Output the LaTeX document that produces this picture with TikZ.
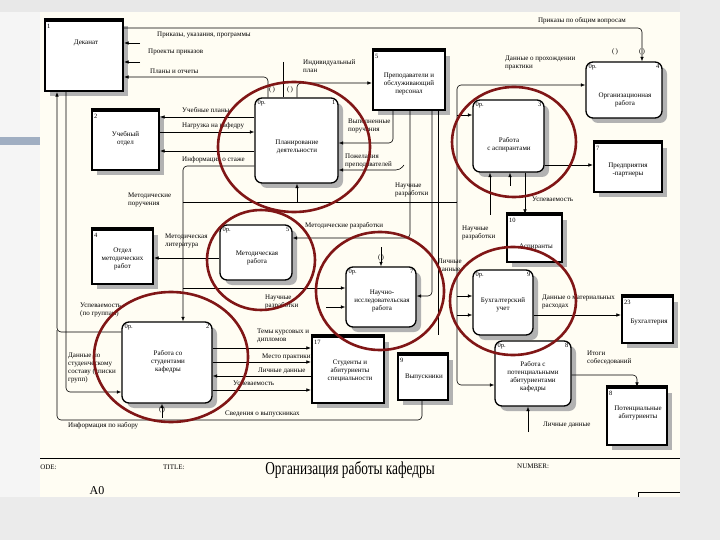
\documentclass[tikz,border=0pt]{standalone}
\usepackage{fontspec}
\setmainfont{Liberation Serif}
\usetikzlibrary{arrows.meta,shadows,calc}
\definecolor{cream}{RGB}{255,253,243}
\definecolor{circ}{RGB}{128,22,22}
\definecolor{slidebar}{RGB}{160,174,194}
\tikzset{
 ent/.style={draw, line width=2.2pt, fill=white, inner sep=0,
   general shadow={fill=gray!60, shadow xshift=5pt, shadow yshift=-5pt}},
 proc/.style={draw, line width=1.3pt, rounded corners=7pt, fill=white, inner sep=0,
   general shadow={fill=gray!60, shadow xshift=5pt, shadow yshift=-5pt}},
 txt/.style={font=\fontsize{7}{8}\selectfont, align=center, inner sep=0},
 lbl/.style={font=\fontsize{7}{8}\selectfont, align=left, inner sep=0, anchor=west},
 num/.style={font=\fontsize{6.5}{7}\selectfont, inner sep=0},
 tun/.style={font=\fontsize{7}{7}\selectfont, inner sep=0},
 arr/.style={-{Latex[length=4.5pt,width=3.5pt]}, line width=0.6pt, rounded corners=4pt},
 ln/.style={line width=0.6pt, rounded corners=4pt},
 ring/.style={draw=circ, line width=2.6pt},
}
\begin{document}
\begin{tikzpicture}[x=1pt,y=-1pt]
\useasboundingbox (0,0) rectangle (720,540);
% slide background
\fill[gray!8] (0,0) rectangle (720,540);
\fill[gray!18] (0,0) rectangle (720,12);
\fill[gray!16] (680,0) rectangle (720,540);
\fill[gray!16] (0,497) rectangle (720,540);
\fill[slidebar] (0,137) rectangle (46,145);
\fill[cream] (40,12) rectangle (680,497);

% ---------- external entities ----------
\node[ent, minimum width=78, minimum height=70] (e1) at (84,56) {};
\node[txt] (e1t) at (86,43) {Деканат};
\node[ent, minimum width=67, minimum height=59] (e2) at (125.5,140.5) {};
\node[txt] (e2t) at (125.5,139) {Учебный\\отдел};
\node[ent, minimum width=61, minimum height=54] (e4) at (122.5,257) {};
\node[txt] (e4t) at (122.5,259) {Отдел\\методических\\работ};
\node[ent, minimum width=72, minimum height=59] (e5) at (409,80.5) {};
\node[txt] (e5t) at (409,84) {Преподаватели и\\обслуживающий\\персонал};
\node[ent, minimum width=68, minimum height=49] (e7) at (628,167.5) {};
\node[txt] (e7t) at (628,170) {Предприятия\\-партнеры};
\node[ent, minimum width=55, minimum height=47] (e10) at (534.5,238.5) {};
\node[txt] (e10t) at (536,247) {Аспиранты};
\node[ent, minimum width=51, minimum height=46] (e23) at (647.5,320) {};
\node[txt] (e23t) at (649,322) {Бухгалтерия};
\node[ent, minimum width=60, minimum height=57] (e8) at (637,416.5) {};
\node[txt] (e8t) at (638,413) {Потенциальные\\абитуриенты};
\node[ent, minimum width=50, minimum height=45] (e9) at (423,377.5) {};
\node[txt] (e9t) at (424,377) {Выпускники};
\node[ent, minimum width=72, minimum height=66] (e17) at (348,370) {};
\node[txt] (e17t) at (350,371) {Студенты и\\абитуриенты\\специальности};
\foreach \n/\k in {e1/1,e2/2,e4/4,e5/5,e7/7,e10/10,e23/23,e8/8,e9/9,e17/17}{
  \draw[line width=3.6pt] (\n.north west) -- (\n.north east);
  \node[num, anchor=north west] (\n k) at ($(\n.north west)+(3,4)$) {\k};
}

% ---------- processes ----------
\node[proc, minimum width=83, minimum height=85] (p1) at (296.5,140.5) {};
\node[txt] (p1t) at (297,147) {Планирование\\деятельности};
\node[proc, minimum width=76, minimum height=56] (p6) at (624,90) {};
\node[txt] (p6t) at (625,100) {Организационная\\работа};
\node[proc, minimum width=71, minimum height=72] (p3) at (508.5,136) {};
\node[txt] (p3t) at (509,145) {Работа\\с аспирантами};
\node[proc, minimum width=72, minimum height=55] (p5) at (256,252.5) {};
\node[txt] (p5t) at (257,258) {Методическая\\работа};
\node[proc, minimum width=70, minimum height=60] (p7) at (381,297) {};
\node[txt] (p7t) at (382,301) {Научно-\\исследовательская\\работа};
\node[proc, minimum width=60, minimum height=65] (p9) at (503,302.5) {};
\node[txt] (p9t) at (503,305) {Бухгалтерский\\учет};
\node[proc, minimum width=90, minimum height=81] (p2) at (167,362.5) {};
\node[txt] (p2t) at (168,362) {Работа со\\студентами\\кафедры};
\node[proc, minimum width=76, minimum height=65] (p8) at (533,373.5) {};
\node[txt] (p8t) at (533,377) {Работа с\\потенциальными\\абитуриентами\\кафедры};
\foreach \n/\k in {p1/1,p6/4,p3/3,p5/5,p7/7,p9/9,p2/2,p8/8}{
  \node[num, anchor=north west] (\n a) at ($(\n.north west)+(3,3)$) {0р.};
  \node[num, anchor=north east] (\n b) at ($(\n.north east)+(-3,3)$) {\k};
}

% ---------- named free ends ----------
\coordinate (s1) at (140,43);
\coordinate (s2) at (140,62);
\coordinate (t1) at (283,62);
\coordinate (t2) at (404,165);
\coordinate (jl) at (183,202);
\coordinate (bus) at (457,202);
\coordinate (t3) at (490,215);
\coordinate (t4) at (510,186);
\coordinate (t5) at (381,247);
\coordinate (t6) at (326,307);
\coordinate (t7) at (528,432);
\coordinate (t8) at (438,335);
\coordinate (t9) at (162,418);

% ---------- connectors ----------
\draw[arr] (e1.east |- 0,28) -- (642,28) -- (p6.north -| 642,0);
\draw[arr] (s1) -- (e1.east |- s1);
\draw[arr] (s2) -- (e1.east |- s2);
\draw[arr] (p1.north -| 268,0) -- (268,77) -- (e1.east |- 0,77);
\draw[arr] (p1.north -| 297,0) -- (297,83) -- (e5.west |- 0,83);
\draw[ln] (t1) -- (p1.north -| t1);
\draw[arr] (e5.south -| 393,0) -- (393,143) -- (p1.east |- 0,143);
\draw[arr] (t2) -- (400,170) -- (p1.east |- 0,170);
\draw[arr] (p1.west |- 0,117) -- (e2.east |- 0,117);
\draw[arr] (e2.east |- 0,132) -- (p1.west |- 0,132);
\draw[arr] (p1.west |- 0,151) -- (e2.east |- 0,151);
\draw[arr] (p1.west |- 0,166) -- (183,166) -- (p2.north -| 183,0);
\draw[ln] (jl) -- (bus);
\draw[arr] (297,202) -- (p1.south -| 297,0);
\draw[arr] (bus) -- (457,85) -- (p6.west |- 0,85);
\draw[arr] (bus) -- (457,385) -- (p8.west |- 0,385);
\draw[arr] (457,115) -- (p3.west |- 0,115);
\draw[arr] (457,296) -- (p9.west |- 0,296);
\draw[arr] (457,315) -- (p9.west |- 0,315);
\draw[arr] (e5.south -| 410,0) -- (410,238) -- (p5.east |- 0,238);
\draw[arr] (e5.south -| 432,0) -- (432,296) -- (p7.east |- 0,296);
\draw[ln] (e5.south -| 438,0) -- (t8);
\draw[arr] (p3.south -| 525,0) -- (e10.north -| 525,0);
\draw[arr] (p3.east |- 0,165) -- (e7.west |- 0,165);
\draw[arr] (t3) -- (p3.south -| t3);
\draw[arr] (t4) -- (p3.south -| t4);
\draw[arr] (p5.west |- 0,258) -- (e4.east |- 0,258);
\draw[arr] (183,288) -- (p7.west |- 0,288);
\draw[arr] (t5) -- (p7.north -| t5);
\draw[arr] (t6) -- (p7.west |- t6);
\draw[arr] (p9.east |- 0,315) -- (e23.west |- 0,315);
\draw[arr] (p8.east |- 0,375) -- (637,375) -- (e8.north -| 637,0);
\draw[arr] (t7) -- (p8.south -| t7);
\draw[arr] (t9) -- (p2.south -| t9);
\draw[arr] (p2.east |- 0,348) -- (e17.west |- 0,348);
\draw[arr] (p2.east |- 0,362) -- (e17.west |- 0,362);
\draw[arr] (e17.west |- 0,376) -- (p2.east |- 0,376);
\draw[arr] (p2.east |- 0,390) -- (e17.west |- 0,390);
\draw[arr] (e1.south -| 66,0) -- (66,392) -- (p2.west |- 0,392);
\draw[arr] (p2.west |- 0,332) -- (57,332) -- (e1.south -| 57,0);
\draw[ln] (e9.south -| 422,0) -- (422,420) -- (57,420) -- (57,330);

% ---------- tunnel marks ----------
\node[tun] (u1) at (272,90) {(\,)};
\node[tun] (u2) at (290,90) {(\,)};
\node[tun] (u3) at (615,52) {(\,)};
\node[tun] (u4) at (642,52) {(\,)};
\node[tun] (u5) at (162,410) {(\,)};
\node[tun] (u6) at (381,258) {(\,)};

% ---------- flow labels ----------
\node[txt] (l1) at (582,21) {Приказы по общим вопросам};
\node[lbl] (l2) at (157,35) {Приказы, указания, программы};
\node[lbl] (l3) at (148,52) {Проекты приказов};
\node[lbl] (l4) at (150,71) {Планы и отчеты};
\node[lbl] (l5) at (303,66) {Индивидуальный\\план};
\node[lbl] (l6) at (348,126) {Выполненные\\поручения};
\node[lbl] (l7) at (345,161) {Пожелания\\преподавателей};
\node[lbl] (l8) at (182,110) {Учебные планы};
\node[lbl] (l9) at (182,126) {Нагрузка на кафедру};
\node[lbl] (l10) at (182,160) {Информация о стаже};
\node[lbl] (l11) at (128,200) {Методические\\поручения};
\node[lbl] (l12) at (395,190) {Научные\\разработки};
\node[lbl] (l13) at (305,226) {Методические разработки};
\node[lbl] (l14) at (165,241) {Методическая\\литература};
\node[lbl] (l15) at (462,233) {Научные\\разработки};
\node[lbl] (l16) at (532,199) {Успеваемость};
\node[lbl] (l17) at (265,302) {Научные\\разработки};
\node[lbl] (l18) at (438,266) {Личные\\данные};
\node[lbl] (l19) at (542,302) {Данные о материальных\\расходах};
\node[lbl] (l20) at (587,358) {Итоги\\собеседований};
\node[lbl] (l21) at (543,425) {Личные данные};
\node[lbl] (l22) at (505,63) {Данные о прохождении\\практики};
\node[lbl] (l23) at (257,336) {Темы курсовых и\\дипломов};
\node[lbl] (l24) at (262,357) {Место практики};
\node[lbl] (l25) at (258,371) {Личные данные};
\node[lbl] (l26) at (233,383) {Успеваемость};
\node[lbl] (l27) at (225,414) {Сведения о выпускниках};
\node[lbl] (l28) at (68,368) {Данные по\\студенческому\\составу (списки\\групп)};
\node[lbl] (l29) at (80,310) {Успеваемость\\(по группам)};
\node[lbl] (l30) at (68,426) {Информация по набору};

% ---------- title block ----------
\begin{scope}
\clip (40,12) rectangle (680,497);
\draw[line width=0.7pt] (40,458) -- (680,458);
\node[lbl] (nd) at (35,467) {NODE:};
\node[lbl] (tt) at (163,467) {TITLE:};
\node[lbl] (nb) at (517,466) {NUMBER:};
\node[txt, font=\fontsize{14}{16}\selectfont] (ttl) at (350,470) {\scalebox{0.95}[1.3]{Организация работы кафедры}};
\node[txt, font=\fontsize{12}{14}\selectfont] (a0) at (97,491) {A0};
\draw[line width=0.7pt] (638,497) -- (638,492) -- (680,492);
\end{scope}

% ---------- red rings ----------
\draw[ring] (294,147) ellipse [x radius=76, y radius=65];
\draw[ring] (514,142) ellipse [x radius=62, y radius=55];
\draw[ring] (261,260) ellipse [x radius=54, y radius=50];
\draw[ring] (380,291) ellipse [x radius=64, y radius=59];
\draw[ring] (513,301) ellipse [x radius=63, y radius=54];
\draw[ring] (171,357) ellipse [x radius=77, y radius=65];
\end{tikzpicture}
\end{document}
